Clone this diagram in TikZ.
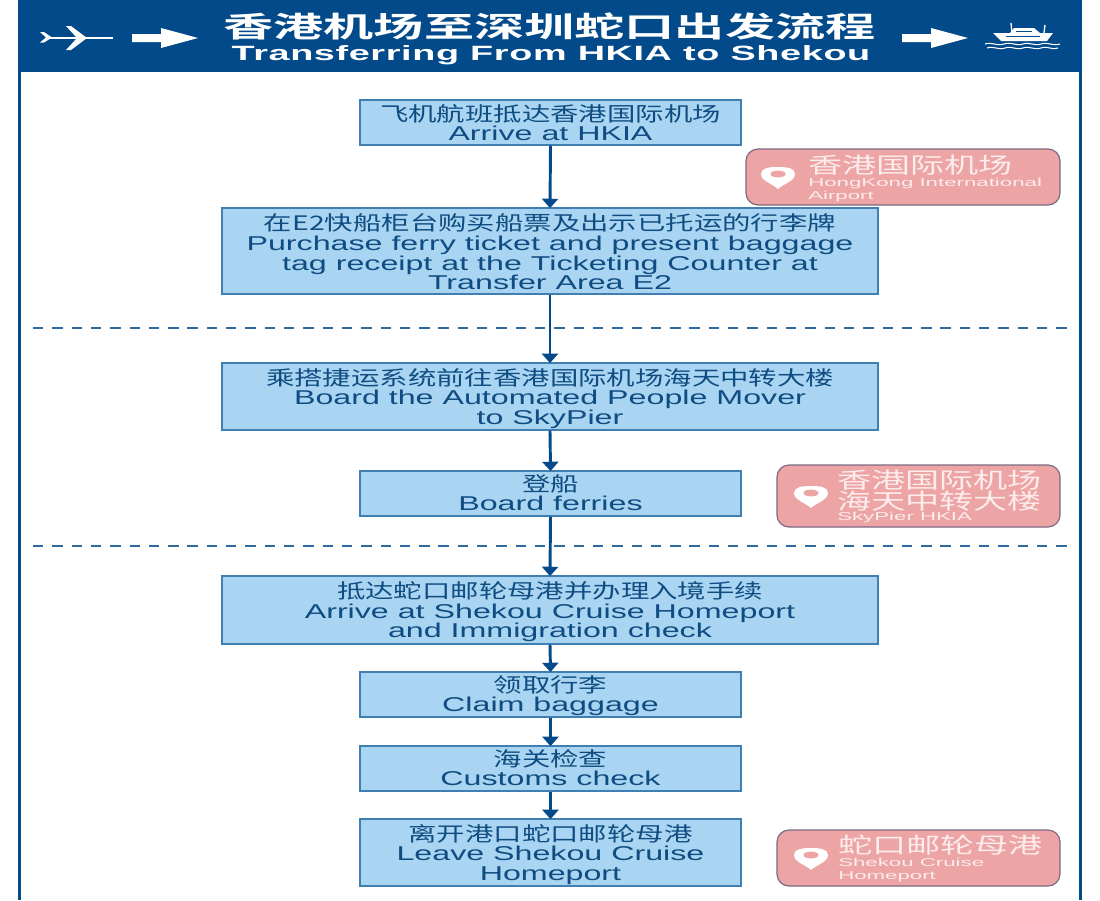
\documentclass[tikz,border=0pt]{standalone}
\usepackage{fontspec}
\usetikzlibrary{arrows.meta}
\setmainfont[FakeStretch=1.61]{Liberation Sans}
\newfontfamily\cjkf[FakeStretch=1.42]{Noto Sans CJK SC}
\newfontfamily\cjkpink[FakeStretch=1.55]{Noto Sans CJK SC}
\newfontfamily\enpink[FakeStretch=1.94]{Liberation Sans}
\newfontfamily\cjktitle[FakeStretch=1.75]{Noto Sans CJK SC Bold}
\newfontfamily\entitle[FakeStretch=1.83,LetterSpace=3]{Liberation Sans Bold}
\definecolor{navy}{HTML}{034A8A}
\definecolor{flowfill}{HTML}{A9D5F2}
\definecolor{flowline}{HTML}{3F7FB2}
\definecolor{flowtext}{HTML}{0F4C81}
\definecolor{dashblue}{HTML}{2F6A9E}
\definecolor{pinkfill}{HTML}{EDA4A4}
\definecolor{pinkline}{HTML}{7C6A84}
\definecolor{pinktext}{HTML}{FCECEC}
\newcommand{\flowsize}{\fontsize{15}{14.7}\selectfont\lineskiplimit=-20pt\relax}
\newcommand{\pinkbig}{\fontsize{16.5}{16.5}\selectfont\lineskiplimit=-20pt\relax\cjkpink}
\newcommand{\pinksmall}{\fontsize{8.6}{9.8}\selectfont\lineskiplimit=-20pt\relax\enpink}
% struts that make every box's text sit the same way, with or without descenders
\newcommand{\Ts}{\rule{0pt}{17pt}}
\newcommand{\Tb}{\rule{0pt}{18.5pt}}
\newcommand{\Bs}{\rule[-4.5pt]{0pt}{4.5pt}}
\newcommand{\Bu}{\rule[-6pt]{0pt}{6pt}}
\tikzset{
  flowbox/.style={draw=flowline,line width=0.9pt,fill=flowfill,text=flowtext,inner xsep=0pt,inner ysep=-6pt,align=center,font=\flowsize},
  widebox/.style={flowbox,minimum width=492pt},
  narrowbox/.style={flowbox,minimum width=285.75pt},
  flowarrow/.style={draw=navy,line width=2.2pt,-{Triangle[length=7pt,width=12pt]},shorten >=-0.5pt},
  divider/.style={draw=dashblue,line width=0.9pt,dash pattern=on 7.8pt off 6.68pt},
  pinkbox/.style={draw=pinkline,line width=0.9pt,fill=pinkfill,rounded corners=9pt,inner sep=0pt},
  pinklabel/.style={text=pinktext,inner sep=0pt,anchor=north west,align=left}
}
\newcommand{\pinicon}[2]{%
  \fill[white] (#1-17,#2-2) .. controls (#1-17,#2-8) and (#1-9,#2-9) .. (#1,#2-9)
    .. controls (#1+9,#2-9) and (#1+17,#2-8) .. (#1+17,#2-2)
    .. controls (#1+17,#2+5) and (#1+5,#2+8) .. (#1,#2+13)
    .. controls (#1-5,#2+8) and (#1-17,#2+5) .. (#1-17,#2-2) -- cycle;
  \fill[pinkfill] (#1-7.5,#2-2) .. controls (#1-7.5,#2-6.5) and (#1+7.5,#2-6.5) .. (#1+7.5,#2-2)
    .. controls (#1+7.5,#2+2.5) and (#1-7.5,#2+2.5) .. (#1-7.5,#2-2) -- cycle;
}
\newcommand{\headarrow}[2]{%
  \fill[white] (#1,#2-4) -- (#1+29,#2-4) -- (#1+29,#2-10) -- (#1+66,#2) -- (#1+29,#2+10) -- (#1+29,#2+4) -- (#1,#2+4) -- cycle;
}
\begin{document}
\begin{tikzpicture}[x=0.75pt,y=-0.75pt]
\useasboundingbox (0,0) rectangle (1100,900);
\fill[white] (0,0) rectangle (1100,900);
% frame and header
\fill[navy] (18,0) rectangle (1082,72);
\fill[navy] (18,72) rectangle (21,900);
\fill[navy] (1079,72) rectangle (1082,900);
\node[text=white,inner sep=0pt,font=\fontsize{21.5}{22}\selectfont\cjktitle] (title) at (549.5,26) {香港机场至深圳蛇口出发流程};
\node[text=white,inner sep=0pt,font=\fontsize{15.5}{16}\selectfont\entitle] (subtitle) at (551,55) {Transferring From HKIA to Shekou};
% plane
\fill[white] (46,36.6) rectangle (113,39.2);
\fill[white] (40,32) -- (44,32) -- (52,37.5) -- (44,42.5) -- (40,42.5) -- (46,37.5) -- cycle;
\fill[white] (66,26) -- (71,26) -- (87,38) -- (71,50) -- (66,50) -- (77,38) -- cycle;
\headarrow{132}{38}
\headarrow{902}{38}
% ship
\fill[white] (993,33) -- (1053,33) -- (1047,41) -- (1001,41) -- cycle;
\fill[white] (1010,33) -- (1014,28) -- (1034,28) -- (1040,33) -- cycle;
\fill[navy] (1016,31) rectangle (1032,32);
\fill[navy] (1006,36) rectangle (1040,37);
\draw[white,line width=1pt] (1011,23) -- (1012,33) (1045,25) -- (1044,33);
\draw[white,line width=0.8pt] (985,44) .. controls (992,41.5) and (996,46.5) .. (1004,44) .. controls (1012,41.5) and (1016,46.5) .. (1023,44) .. controls (1030,41.5) and (1034,46.5) .. (1041,44) .. controls (1048,41.5) and (1052,46.5) .. (1060,44);
\draw[white,line width=0.8pt] (987,48) .. controls (994,45.5) and (998,50.5) .. (1005,48) .. controls (1012,45.5) and (1016,50.5) .. (1023,48) .. controls (1030,45.5) and (1034,50.5) .. (1041,48) .. controls (1048,45.5) and (1052,50.5) .. (1058,48);
% dividers
\draw[divider] (33,328) -- (1067,328);
\draw[divider] (33,546) -- (1067,546);
% flow boxes
\node[narrowbox,minimum height=33.75pt] (a) at (550.5,122.5) {{\Ts\cjkf 飞机航班抵达香港国际机场}\\Arrive at HKIA\Bs};
\node[widebox,minimum height=64.5pt] (b) at (550,251) {{\Tb\cjkf 在E2快船柜台购买船票及出示已托运的行李牌}\\Purchase ferry ticket and present baggage\\tag receipt at the Ticketing Counter at\\Transfer Area E2\Bs};
\node[widebox,minimum height=50.25pt] (c) at (550,396.5) {{\Ts\cjkf 乘搭捷运系统前往香港国际机场海天中转大楼}\\Board the Automated People Mover\\to SkyPier\Bs};
\node[narrowbox,minimum height=33.75pt] (d) at (550.5,493.5) {{\Ts\cjkf 登船}\\Board ferries\Bu};
\node[widebox,minimum height=51pt] (e) at (550,610) {{\Ts\cjkf 抵达蛇口邮轮母港并办理入境手续}\\Arrive at Shekou Cruise Homeport\\and Immigration check\Bs};
\node[narrowbox,minimum height=33.75pt] (f) at (550.5,694.5) {{\Ts\cjkf 领取行李}\\Claim baggage\Bu};
\node[narrowbox,minimum height=33.75pt] (g) at (550.5,768.5) {{\Ts\cjkf 海关检查}\\Customs check\Bu};
\node[narrowbox,minimum height=50.25pt] (h) at (550.5,852.5) {{\Ts\cjkf 离开港口蛇口邮轮母港}\\Leave Shekou Cruise\\Homeport\Bs};
% connectors
\foreach \p/\q in {a/b,b/c,c/d,d/e,e/f,f/g,g/h}{
  \draw[flowarrow] (\p.south) -- (\q.north);
}
% location tags
\node[pinkbox,minimum width=235.5pt,minimum height=42pt] (tag1) at (903,177) {};
\pinicon{778}{176}
\node[pinklabel,font=\pinkbig] (tag1cn) at (808,155) {香港国际机场};
\node[pinklabel,font=\pinksmall] (tag1en) at (808,178) {HongKong International\\Airport};
\node[pinkbox,minimum width=212.25pt,minimum height=46.5pt] (tag2) at (918.5,496) {};
\pinicon{811}{495}
\node[pinklabel,font=\pinkbig] (tag2cn) at (837,470) {香港国际机场\\[-0.8pt]海天中转大楼};
\node[pinklabel,font=\pinksmall] (tag2en) at (837,512) {SkyPier HKIA};
\node[pinkbox,minimum width=212.25pt,minimum height=42pt] (tag3) at (918.5,858) {};
\pinicon{811}{857}
\node[pinklabel,font=\pinkbig] (tag3cn) at (838,835) {蛇口邮轮母港};
\node[pinklabel,font=\pinksmall] (tag3en) at (838,858) {Shekou Cruise\\Homeport};
\end{tikzpicture}
\end{document}
